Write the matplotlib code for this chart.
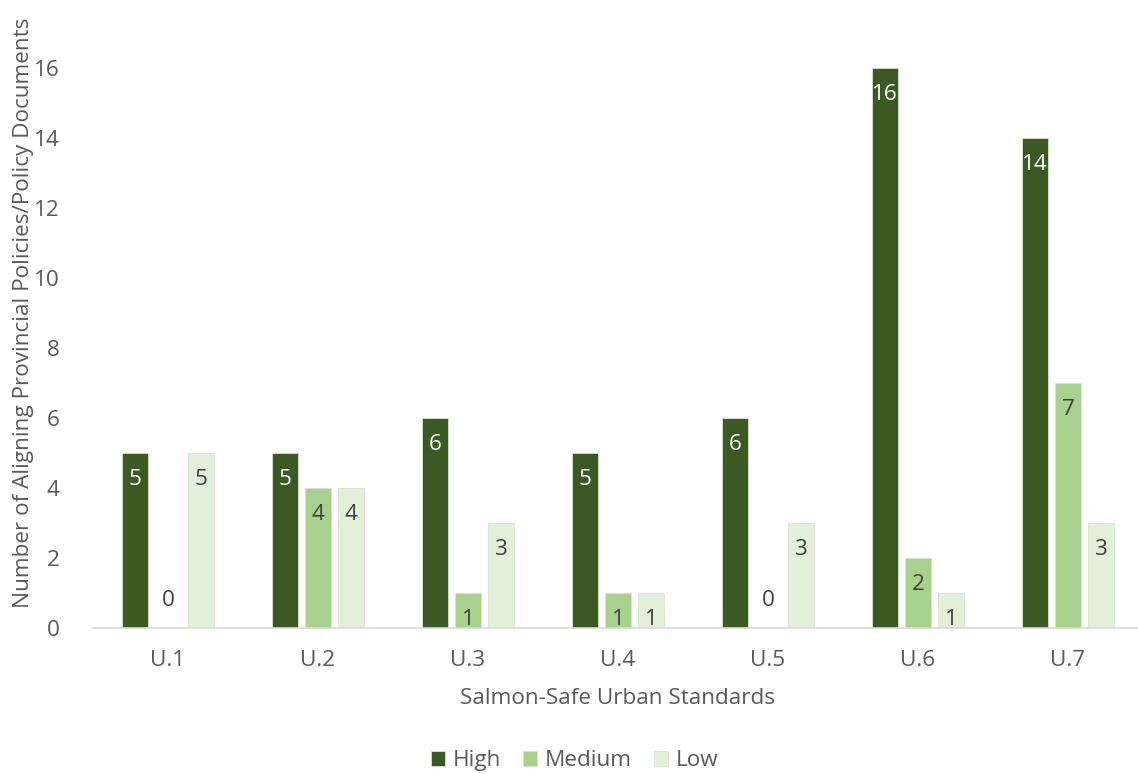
import numpy as np
import matplotlib.pyplot as plt

# Standards and counts per alignment level
standards = ['U.1', 'U.2', 'U.3', 'U.4', 'U.5', 'U.6', 'U.7']
high = [5, 5, 6, 5, 6, 16, 14]
medium = [0, 4, 1, 1, 0, 2, 7]
low = [5, 4, 3, 1, 3, 1, 3]

series = [('High', high, '#3b5a23', 'white'),
          ('Medium', medium, '#a9d18e', '#404040'),
          ('Low', low, '#e2efd9', '#404040')]

plt.rcParams['font.family'] = ['Open Sans', 'DejaVu Sans']
gris = '#595959'
fs = 16.2

fig = plt.figure(figsize=(11.38, 7.74), dpi=100)
ax = fig.add_axes([0.0817, 0.1886, 0.9227, 0.814])

x = np.arange(len(standards))
ancho = 0.177
paso = 0.22

for i, (nombre, vals, color, color_txt) in enumerate(series):
    pos = x + (i - 1) * paso
    ax.bar(pos, vals, ancho, color=color, label=nombre,
           edgecolor='#d8e4cf', linewidth=0.6)
    for xb, v in zip(pos, vals):
        if v == 0:
            ax.text(xb, 0.78, str(v), ha='center', va='center',
                    fontsize=fs, color='#404040')
        else:
            ax.annotate(str(v), (xb, v), xytext=(0, -19), textcoords='offset points',
                        ha='center', va='center', fontsize=fs, color=color_txt)

ax.set_xlim(-0.5, len(standards) - 0.5)
ax.set_ylim(0, 18)
ax.set_yticks(range(0, 17, 2))
ax.set_xticks(x)
ax.set_xticklabels(standards)
ax.tick_params(axis='both', length=0, labelsize=fs, colors=gris)
ax.tick_params(axis='y', pad=24)
ax.tick_params(axis='x', pad=16)

for lado in ['top', 'right', 'left']:
    ax.spines[lado].set_visible(False)
ax.spines['bottom'].set_color('#d9d9d9')
ax.spines['bottom'].set_linewidth(1.2)

ax.set_xlabel('Salmon-Safe Urban Standards', fontsize=fs, color=gris, labelpad=12)
ax.set_ylabel('Number of Aligning Provincial Policies/Policy Documents',
              fontsize=fs, color=gris, labelpad=0)

leg = fig.legend(loc='center', bbox_to_anchor=(0.505, 0.017), ncol=3, frameon=False,
                 fontsize=fs, handlelength=0.6, handleheight=0.6,
                 handletextpad=0.35, columnspacing=1.0)
for t in leg.get_texts():
    t.set_color(gris)

fig.savefig('out.png', dpi=100)
